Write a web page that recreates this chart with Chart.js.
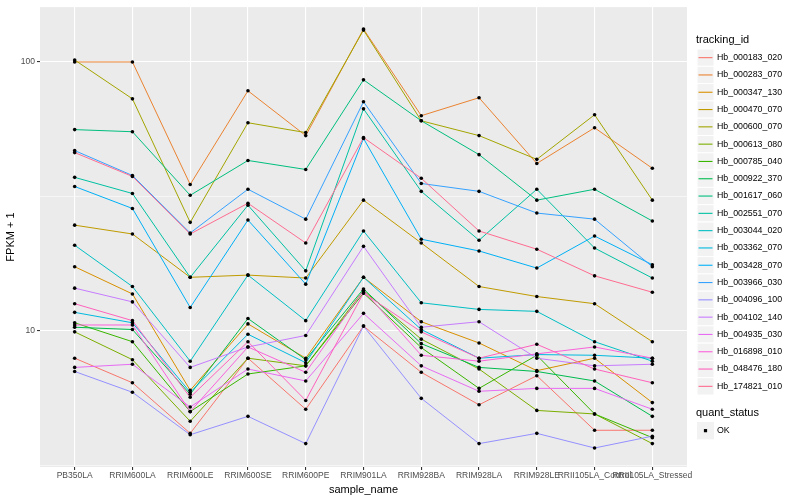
<!DOCTYPE html>
<html lang="en">
<head>
<meta charset="UTF-8">
<title>FPKM + 1 by sample_name</title>
<script src="https://cdn.jsdelivr.net/npm/chart.js"></script>
<style>
  html, body { margin: 0; padding: 0; background: #ffffff; }
  #wrap { width: 800px; height: 500px; }
</style>
</head>
<body>
<div id="wrap"><canvas id="myChart" width="800" height="500"></canvas></div>
<script>
const sampleNames = ['PB350LA', 'RRIM600LA', 'RRIM600LE', 'RRIM600SE', 'RRIM600PE', 'RRIM901LA',
  'RRIM928BA', 'RRIM928LA', 'RRIM928LE', 'RRII105LA_Control', 'RRII105LA_Stressed'];

const trackingIds = ['Hb_000183_020', 'Hb_000283_070', 'Hb_000347_130', 'Hb_000470_070', 'Hb_000600_070',
  'Hb_000613_080', 'Hb_000785_040', 'Hb_000922_370', 'Hb_001617_060', 'Hb_002551_070',
  'Hb_003044_020', 'Hb_003362_070', 'Hb_003428_070', 'Hb_003966_030', 'Hb_004096_100',
  'Hb_004102_140', 'Hb_004935_030', 'Hb_016898_010', 'Hb_048476_180', 'Hb_174821_010'];

const quantStatus = ['OK'];
const yMajorTicks = [10, 100];
const yMinorTicks = [3.162, 31.62];

// FPKM + 1, one value per sample (same order as sampleNames)
const hb_000183_020 = [7.9, 6.4, 4.15, 7.9, 5.1, 10.4, 7.0, 5.3, 6.8, 4.26, 4.26];
const hb_000283_070 = [100, 100, 35.0, 78.1, 53.2, 132.5, 63.1, 73.6, 41.9, 56.9, 40.2];
const hb_000347_130 = [17.3, 13.7, 6.0, 10.6, 7.9, 15.8, 10.8, 9.0, 7.1, 7.9, 5.4];
const hb_000470_070 = [24.7, 22.9, 15.8, 16.1, 15.7, 30.6, 21.2, 14.6, 13.4, 12.6, 9.1];
const hb_000600_070 = [101.7, 72.9, 25.3, 59.4, 54.6, 131.4, 60.4, 53.2, 43.4, 63.6, 30.6];
const hb_000613_080 = [9.9, 7.8, 4.6, 7.9, 7.4, 14.1, 9.3, 7.2, 5.05, 4.9, 3.8];
const hb_000785_040 = [10.7, 9.1, 5.0, 6.9, 7.4, 13.8, 8.65, 6.1, 8.1, 4.9, 4.0];
const hb_000922_370 = [10.3, 10.1, 5.8, 11.1, 7.8, 14.3, 8.95, 7.3, 7.05, 6.5, 4.8];
const hb_001617_060 = [56.0, 55.0, 31.9, 43.0, 39.8, 85.8, 60.4, 45.2, 30.6, 33.6, 25.6];
const hb_002551_070 = [37.2, 32.4, 15.8, 29.3, 16.7, 66.9, 33.0, 21.7, 33.6, 20.3, 15.7];
const hb_003044_020 = [20.8, 14.6, 7.7, 16.1, 10.9, 23.5, 12.7, 12.0, 11.8, 9.1, 7.7];
const hb_003362_070 = [11.7, 10.7, 5.9, 9.7, 7.6, 15.8, 10.1, 7.9, 8.15, 8.1, 7.9];
const hb_003428_070 = [34.4, 28.5, 12.2, 25.8, 14.9, 51.9, 21.9, 19.8, 17.1, 22.5, 17.6];
const hb_003966_030 = [46.8, 37.8, 23.1, 33.6, 26.0, 71.1, 35.3, 33.0, 27.4, 26.0, 17.3];
const hb_004096_100 = [7.05, 5.9, 4.1, 4.8, 3.8, 10.4, 5.6, 3.8, 4.15, 3.66, 4.05];
const hb_004102_140 = [14.4, 12.8, 7.3, 8.7, 9.6, 20.6, 10.3, 10.8, 7.9, 7.4, 7.5];
const hb_004935_030 = [7.3, 7.5, 5.2, 7.2, 6.5, 11.6, 7.4, 5.95, 6.1, 6.1, 5.1];
const hb_016898_010 = [10.5, 10.5, 5.0, 8.7, 7.0, 14.1, 8.1, 7.7, 8.2, 8.7, 7.9];
const hb_048476_180 = [12.6, 10.9, 5.65, 9.1, 5.5, 13.8, 9.9, 7.9, 8.9, 7.2, 6.4];
const hb_174821_010 = [46.0, 37.5, 22.9, 29.8, 21.2, 52.3, 36.9, 23.5, 20.1, 16.0, 13.9];

const seriesValues = [hb_000183_020, hb_000283_070, hb_000347_130, hb_000470_070, hb_000600_070,
  hb_000613_080, hb_000785_040, hb_000922_370, hb_001617_060, hb_002551_070,
  hb_003044_020, hb_003362_070, hb_003428_070, hb_003966_030, hb_004096_100,
  hb_004102_140, hb_004935_030, hb_016898_010, hb_048476_180, hb_174821_010];

// ggplot default hue palette, 20 levels
const lineColors = ['#F8766D', '#EA8331', '#D89000', '#C09B00', '#A3A500', '#7CAE00', '#39B600', '#00BB4E',
  '#00BF7D', '#00C1A3', '#00BFC4', '#00BAE0', '#00B0F6', '#35A2FF', '#9590FF', '#C77CFF',
  '#E76BF3', '#FA62DB', '#FF62BC', '#FF6C91'];

const FONT = '"Liberation Sans", Arial, Helvetica, sans-serif';

const datasets = trackingIds.map((id, i) => ({
  label: id,
  data: seriesValues[i].map((v, j) => ({ x: j, y: v })),
  borderColor: lineColors[i],
  backgroundColor: lineColors[i],
  borderWidth: 1,
  pointRadius: 0,
  fill: false,
  tension: 0,
  order: trackingIds.length - i + 1
}));

// all points on top of all lines, like geom_point after geom_line
datasets.push({
  label: quantStatus[0],
  data: seriesValues.flatMap(vals => vals.map((v, j) => ({ x: j, y: v }))),
  showLine: false,
  pointRadius: 1.8,
  pointHoverRadius: 1.8,
  pointStyle: 'circle',
  pointBackgroundColor: '#000000',
  pointBorderWidth: 0,
  order: 0
});

const panelBg = {
  id: 'panelBg',
  beforeDraw(chart) {
    const { ctx, chartArea: a } = chart;
    ctx.save();
    ctx.fillStyle = '#EBEBEB';
    ctx.fillRect(a.left, a.top, a.right - a.left, a.bottom - a.top);
    ctx.restore();
  }
};

const ggLegend = {
  id: 'ggLegend',
  afterDraw(chart) {
    const ctx = chart.ctx;
    const x0 = 697, keyW = 17, keyH = 17.3;
    ctx.save();
    ctx.textBaseline = 'middle';
    ctx.textAlign = 'left';
    ctx.fillStyle = '#000';
    ctx.font = '11px ' + FONT;
    ctx.fillText('tracking_id', x0 - 1, 40);
    ctx.font = '8.8px ' + FONT;
    trackingIds.forEach((id, i) => {
      const y = 49 + i * keyH;
      ctx.fillStyle = '#F2F2F2';
      ctx.fillRect(x0, y, keyW, keyH);
      ctx.strokeStyle = '#FFFFFF';
      ctx.lineWidth = 1;
      ctx.strokeRect(x0, y, keyW, keyH);
      ctx.strokeStyle = lineColors[i];
      ctx.lineWidth = 1.1;
      ctx.beginPath();
      ctx.moveTo(x0 + 1.5, y + keyH / 2);
      ctx.lineTo(x0 + keyW - 1.5, y + keyH / 2);
      ctx.stroke();
      ctx.fillStyle = '#000';
      ctx.fillText(id, x0 + 20, y + keyH / 2);
    });
    ctx.font = '11px ' + FONT;
    ctx.fillText('quant_status', x0 - 1, 413);
    const qy = 422;
    ctx.fillStyle = '#F2F2F2';
    ctx.fillRect(x0, qy, keyW, keyH);
    ctx.fillStyle = '#000';
    ctx.fillRect(x0 + keyW / 2 - 1.6, qy + keyH / 2 - 1.6, 3.2, 3.2);
    ctx.font = '8.8px ' + FONT;
    ctx.fillText(quantStatus[0], x0 + 20, qy + keyH / 2);
    ctx.restore();
  }
};

const isMajor = v => yMajorTicks.includes(v);

new Chart(document.getElementById('myChart').getContext('2d'), {
  type: 'line',
  data: { datasets: datasets },
  plugins: [panelBg, ggLegend],
  options: {
    responsive: false,
    animation: false,
    layout: { padding: { top: 5, right: 113, left: 0, bottom: 0 } },
    plugins: {
      legend: { display: false },
      tooltip: { enabled: false }
    },
    scales: {
      x: {
        type: 'linear',
        min: -0.6,
        max: 10.6,
        afterBuildTicks: s => { s.ticks = sampleNames.map((_, i) => ({ value: i })); },
        afterFit: s => { s.height = 33; },
        border: { display: false },
        grid: { color: '#FFFFFF', lineWidth: 1.1, tickColor: '#333333', tickLength: 3 },
        ticks: {
          autoSkip: false, maxRotation: 0, minRotation: 0, padding: 1,
          color: '#4D4D4D', font: { family: FONT, size: 8.5 },
          callback: v => sampleNames[v]
        },
        title: { display: true, text: 'sample_name', color: '#000', font: { family: FONT, size: 11 }, padding: { top: 0, bottom: 3 } }
      },
      y: {
        type: 'logarithmic',
        min: 3.11,
        max: 160,
        afterBuildTicks: s => {
          s.ticks = yMinorTicks.concat(yMajorTicks).sort((a, b) => a - b).map(v => ({ value: v }));
        },
        afterFit: s => { s.width = 40; },
        border: { display: false },
        grid: {
          color: '#FFFFFF',
          lineWidth: c => (c.tick && isMajor(c.tick.value)) ? 1.1 : 0.55,
          tickColor: c => (c.tick && isMajor(c.tick.value)) ? '#333333' : 'rgba(0,0,0,0)',
          tickLength: 3
        },
        ticks: {
          padding: 2, color: '#4D4D4D', font: { family: FONT, size: 8.5 },
          callback: v => isMajor(v) ? String(v) : ''
        },
        title: { display: true, text: 'FPKM + 1', color: '#000', font: { family: FONT, size: 11 }, padding: { top: 4, bottom: 0 } }
      }
    }
  }
});
</script>
</body>
</html>
